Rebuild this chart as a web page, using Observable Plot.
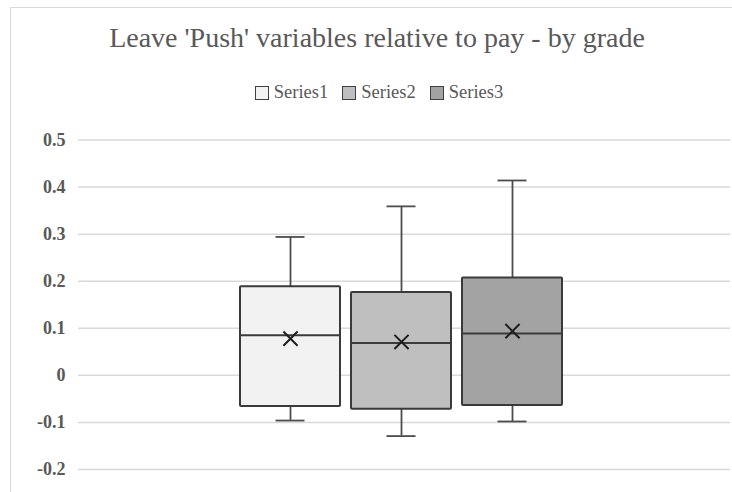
<!DOCTYPE html>
<html>
<head>
<meta charset="utf-8">
<script src="https://cdn.jsdelivr.net/npm/d3@7"></script>
<script src="https://cdn.jsdelivr.net/npm/@observablehq/plot@0.6"></script>
<style>
  html, body { margin: 0; padding: 0; background: #fff; }
  #wrap { position: relative; width: 732px; height: 492px; overflow: hidden; font-family: "Liberation Serif", "DejaVu Serif", serif; }
  #frame { position: absolute; left: 10px; top: 7px; width: 760px; height: 520px; border: 1px solid #d9d9d9; box-sizing: border-box; }
  #title { position: absolute; left: 0; top: 24px; width: 754px; text-align: center; font-size: 28px; line-height: 28px; color: #595959; white-space: nowrap; }
  #legend { position: absolute; left: 0; top: 83px; width: 758px; text-align: center; font-size: 18.5px; line-height: 18.5px; color: #595959; white-space: nowrap; }
  #legend span.item { display: inline-block; margin: 0 7px; }
  #legend span.sw { display: inline-block; width: 12px; height: 12px; border: 1.5px solid #404040; vertical-align: -2px; margin-right: 5px; }
  #chart { position: absolute; left: 0; top: 120px; }
</style>
</head>
<body>
<div id="wrap">
  <div id="frame"></div>
  <div id="title">Leave 'Push' variables relative to pay - by grade</div>
  <div id="legend"></div>
  <div id="chart"></div>
</div>
<script>
const series = ["Series1", "Series2", "Series3"];
const mins = [-0.096, -0.129, -0.098];
const q1s = [-0.066, -0.072, -0.064];
const medians = [0.085, 0.069, 0.089];
const q3s = [0.188, 0.176, 0.207];
const maxs = [0.294, 0.359, 0.414];
const means = [0.078, 0.071, 0.094];
const fills = ["#f2f2f2", "#bfbfbf", "#a3a3a3"];
const yTicks = [-0.2, -0.1, 0, 0.1, 0.2, 0.3, 0.4, 0.5];

const data = series.map((s, i) => ({
  s, min: mins[i], q1: q1s[i], med: medians[i], q3: q3s[i], max: maxs[i], mean: means[i]
}));

// legend
const leg = document.getElementById("legend");
series.forEach((s, i) => {
  const it = document.createElement("span");
  it.className = "item";
  const sw = document.createElement("span");
  sw.className = "sw";
  sw.style.background = fills[i];
  it.appendChild(sw);
  it.appendChild(document.createTextNode(s));
  leg.appendChild(it);
});

const fmt = d => String(+d.toFixed(1));

const chart = Plot.plot({
  width: 732,
  height: 372,
  marginTop: 19.5,
  marginBottom: 23,
  marginLeft: 78,
  marginRight: 2,
  style: { fontFamily: "Liberation Serif, serif", fontSize: "18px", color: "#595959", background: "transparent" },
  x: { type: "band", domain: series, paddingInner: 0.1, paddingOuter: 1.486, align: 0.49, axis: null },
  y: { domain: [-0.2, 0.5], ticks: yTicks, tickFormat: fmt, axis: null },
  color: { domain: series, range: fills },
  marks: [
    Plot.gridY(yTicks, { stroke: "#d9d9d9", strokeOpacity: 1, strokeWidth: 1.5 }),
    Plot.ruleX([0], { frameAnchor: "left", y1: -0.2, y2: 0.5, stroke: "#d9d9d9", strokeWidth: 1.5 }),
    Plot.axisY(yTicks, { tickSize: 0, tickPadding: 13, tickFormat: fmt, fill: "#595959", fontWeight: "bold", label: null }),
    Plot.ruleX(data, { x: "s", y1: "min", y2: "q1", stroke: "#4d4d4d", strokeWidth: 1.8 }),
    Plot.ruleX(data, { x: "s", y1: "q3", y2: "max", stroke: "#4d4d4d", strokeWidth: 1.8 }),
    Plot.tickY(data, { x: "s", y: "min", stroke: "#4d4d4d", strokeWidth: 1.8, inset: 35.5 }),
    Plot.tickY(data, { x: "s", y: "max", stroke: "#4d4d4d", strokeWidth: 1.8, inset: 35.5 }),
    Plot.barY(data, { x: "s", y1: "q1", y2: "q3", fill: "s", stroke: "#3a3a3a", strokeWidth: 2, rx: 1 }),
    Plot.tickY(data, { x: "s", y: "med", stroke: "#3a3a3a", strokeWidth: 2 }),
    Plot.dot(data, { x: "s", y: "mean", symbol: "times", r: 6.5, stroke: "#1e1e1e", strokeWidth: 2 })
  ]
});
document.getElementById("chart").appendChild(chart);
</script>
</body>
</html>
